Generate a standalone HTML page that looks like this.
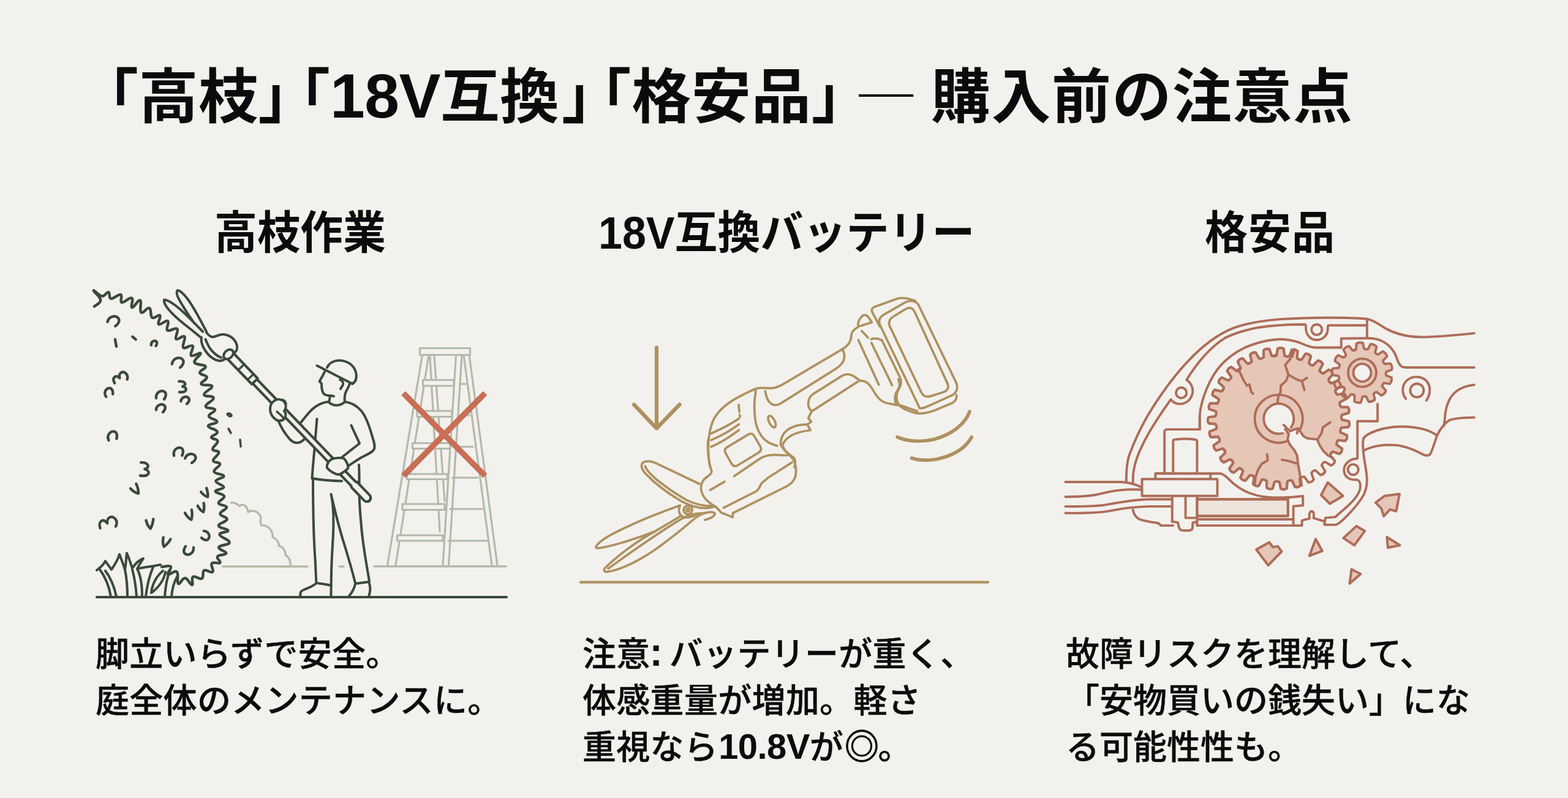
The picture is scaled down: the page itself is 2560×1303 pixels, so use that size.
<!DOCTYPE html>
<html lang="ja">
<head>
<meta charset="utf-8">
<title>購入前の注意点</title>
<style>
html,body{margin:0;padding:0;}
body{width:2560px;height:1303px;overflow:hidden;background:#f3f1ed;position:relative;
 font-family:"Liberation Sans","Noto Sans CJK JP",sans-serif;color:#0b0b0b;}
.t{position:absolute;white-space:nowrap;line-height:1;margin:0;padding:0;font-weight:700;}
h1.t{font-size:97px;top:110px;left:0;width:2560px;height:110px;}
h1.t span{position:absolute;top:0;white-space:nowrap;}
#g1{left:129px;letter-spacing:0.5px;}
#g2{left:442px;}
#g3{left:933.5px;letter-spacing:0.8px;}
#gd{left:1402px;top:10px !important;font-weight:400;font-size:62px;transform:scaleX(1.44);transform-origin:0 50%;}
#g4{left:1520px;letter-spacing:1.5px;}
#g2 i{font-style:normal;letter-spacing:-0.5px;font-size:102px;line-height:0;}
#g2 b{font-weight:inherit;margin-left:4px;}
h2.t{font-size:70px;top:346px;transform:scaleY(1.05);transform-origin:0 50%;}
#hd1{left:350px;}
#hd2{left:977px;}
#hd3{left:1967px;letter-spacing:1px;}
.b{position:absolute;margin:0;padding:0;font-size:55px;font-weight:500;line-height:76px;white-space:nowrap;top:1030px;letter-spacing:0.3px;-webkit-text-stroke:0.45px #0b0b0b;}
#b3{letter-spacing:0;}
.b i{font-style:normal;line-height:0;}
#c1{font-weight:700;font-size:64px;margin-right:-5px;margin-left:-1px;-webkit-text-stroke:0;}
#n1{font-weight:700;font-size:58px;letter-spacing:-0.6px;margin-left:1px;-webkit-text-stroke:0;}
#dc{font-size:56px;-webkit-text-stroke:1.3px #0b0b0b;margin:0 -2px 0 2px;position:relative;top:-0.5px;}
#b1{left:156px;}
#b2{left:951px;}
#b3{left:1740px;}
svg{position:absolute;left:0;top:0;}
</style>
</head>
<body>
<svg width="2560" height="1303" viewBox="0 0 2560 1303" aria-hidden="true">
<g id="ill1">
<path d="M363.5 925H502 M554 925H561 M611 924.7H826" fill="none" stroke="#b4b9ab" stroke-width="3.4" stroke-linecap="round" stroke-linejoin="round"/>
<path d="M377.5 821 C384 819 387 824 391 826 C397 822 404 826 405 836 C413 831 425 836 426 847 C424 853 427 858 427 858 C436 857 446 865 445 877 C452 880 456 886 455 891 C462 893 467 900 466 906 C472 910 475 916 474 924" fill="none" stroke="#b4b9ab" stroke-width="3.4" stroke-linecap="round" stroke-linejoin="round"/>
<path d="M685.5 568.5H767.5V579.5H685.5Z M689.5 579.5L632.5 923 M700 579.5L646 923 M744.5 579.5L723 923 M754 579.5L732.5 923 M757 579.5L803 923 M766 579.5L812 923 M702 582L718 868 M709 582L726 818 M753.5 627H760 M748 678H766 M743 729.5H772 M738.5 780H779.5 M735 831H787 M732 883H795" fill="none" stroke="#b4b9ab" stroke-width="3.2" stroke-linecap="round" stroke-linejoin="round"/>
<path d="M690.5 620.5H741V630H690.5Z M681 671H738V680.5H681Z M673.5 723.5H735V732.5H673.5Z M664.5 774H730.5V782.5H664.5Z M657 823H726V832.5H657Z M648.5 874H723V883H648.5Z" fill="#f3f1ed" stroke="#b4b9ab" stroke-width="3.2" stroke-linecap="round" stroke-linejoin="round"/>
<path d="M658.5 642L792 777 M792 642L658.5 777" fill="none" stroke="#c86f56" stroke-width="9.5" stroke-linecap="butt"/>
<path d="M154.0 500.3 C156.3 498.0 164.5 495.5 164.2 489.8 C164.0 484.1 152.2 475.9 152.7 474.5 C153.3 473.1 161.4 483.1 166.7 483.6 C172.0 484.2 173.7 476.1 176.9 477.0 C180.2 477.9 177.0 486.7 181.4 487.6 C185.8 488.5 193.1 479.8 197.0 481.1 C200.8 482.5 194.9 492.6 198.8 493.8 C202.8 495.0 211.3 484.9 215.0 486.7 C218.7 488.5 212.6 501.3 215.6 502.1 C218.6 502.9 225.5 488.6 228.8 490.4 C232.0 492.1 227.1 507.3 230.4 510.1 C233.8 512.9 239.9 501.2 243.8 503.1 C247.8 504.9 244.6 516.0 248.5 518.7 C252.3 521.4 258.8 512.7 261.2 515.1 C263.5 517.5 256.3 527.4 259.2 529.5 C262.0 531.5 270.9 522.1 274.0 524.3 C277.1 526.5 270.0 536.7 273.4 539.4 C276.7 542.2 286.1 533.9 289.2 537.0 C292.3 540.0 284.8 550.6 287.4 553.4 C290.1 556.2 298.7 546.7 301.3 549.8 C303.9 552.8 296.4 564.1 299.3 567.4 C302.2 570.7 311.7 561.9 314.5 564.8 C317.3 567.6 309.2 577.8 312.1 580.5 C315.0 583.2 326.3 574.5 327.5 577.0 C328.7 579.5 315.8 587.2 317.6 591.9 C319.3 596.5 333.5 594.4 335.4 598.1 C337.3 601.8 325.8 604.7 326.3 608.6 C326.9 612.6 337.2 611.9 337.7 616.0 C338.2 620.0 326.7 624.0 328.6 627.2 C330.5 630.4 345.2 626.8 346.2 630.6 C347.2 634.4 332.6 640.1 333.1 644.3 C333.7 648.6 348.2 645.6 348.7 649.8 C349.3 654.0 335.3 659.3 335.8 663.5 C336.3 667.7 349.8 665.5 351.0 669.0 C352.1 672.6 340.3 675.3 341.0 679.6 C341.8 683.9 354.6 685.0 354.4 688.5 C354.1 692.1 339.8 692.1 339.9 695.7 C340.0 699.3 353.7 701.0 354.8 705.0 C356.0 709.1 345.0 710.8 345.1 714.1 C345.3 717.5 354.9 716.0 355.4 720.3 C355.9 724.6 346.8 729.5 347.2 733.5 C347.6 737.6 357.1 734.7 357.3 738.8 C357.5 742.9 347.6 747.9 348.0 752.1 C348.4 756.3 358.9 753.8 359.2 757.7 C359.6 761.7 348.1 765.8 349.5 770.1 C350.9 774.4 364.8 773.8 365.4 777.2 C366.1 780.6 352.5 781.5 352.4 785.6 C352.3 789.6 365.3 791.7 365.2 795.4 C365.0 799.1 351.6 799.2 351.8 802.4 C351.9 805.7 364.9 806.0 366.0 810.2 C367.1 814.5 355.9 817.6 356.8 821.6 C357.7 825.5 369.5 824.3 370.0 828.2 C370.6 832.0 359.2 834.6 359.4 839.0 C359.5 843.3 371.1 843.6 370.6 847.9 C370.0 852.2 356.6 854.4 357.0 858.4 C357.3 862.5 372.0 863.1 372.4 866.3 C372.8 869.5 358.2 868.6 358.7 872.9 C359.2 877.2 375.0 881.2 374.6 885.8 C374.3 890.3 358.4 889.6 357.2 893.5 C356.1 897.4 369.9 900.1 369.4 903.5 C368.9 906.8 357.3 905.2 355.1 908.6 C352.8 912.0 361.3 916.4 359.3 918.9 C357.2 921.3 348.6 916.5 345.9 919.8 C343.2 923.1 349.9 931.3 347.1 933.9 C344.3 936.5 337.1 929.1 333.3 931.4 C329.4 933.8 333.6 942.3 329.6 944.6 C325.6 946.9 318.7 939.5 315.1 941.8 C311.6 944.1 316.4 954.6 313.5 955.0 C310.7 955.5 307.1 944.5 302.2 944.0 C297.2 943.6 294.0 955.2 291.0 952.9 C288.1 950.7 292.4 937.0 288.7 933.8 C285.0 930.5 276.3 939.9 274.1 938.0 C272.0 936.1 281.0 927.8 278.8 925.1 C276.6 922.4 267.4 925.5 264.2 925.6" fill="none" stroke="#3a4a3a" stroke-width="4.5" stroke-linecap="round" stroke-linejoin="round"/>
<path d="M-7 6C-8 -4 3 -9 8 -3C10 1 8 5 6 8" transform="translate(185.0 522.0) rotate(20) scale(1.10)" fill="none" stroke="#3a4a3a" stroke-width="4.00" stroke-linecap="round" stroke-linejoin="round"/>
<path d="M-3 -5L3 5" transform="translate(189.0 560.0) rotate(20) scale(1.00)" fill="none" stroke="#3a4a3a" stroke-width="4.40" stroke-linecap="round" stroke-linejoin="round"/>
<path d="M-3 -5L3 5" transform="translate(219.0 552.0) rotate(-20) scale(0.60)" fill="none" stroke="#3a4a3a" stroke-width="7.33" stroke-linecap="round" stroke-linejoin="round"/>
<path d="M-7 6C-8 -4 3 -9 8 -3C10 1 8 5 6 8" transform="translate(251.0 560.0) rotate(0) scale(0.60)" fill="none" stroke="#3a4a3a" stroke-width="7.33" stroke-linecap="round" stroke-linejoin="round"/>
<path d="M-7 6C-8 -4 3 -9 8 -3C10 1 8 5 6 8" transform="translate(290.0 590.0) rotate(15) scale(1.10)" fill="none" stroke="#3a4a3a" stroke-width="4.00" stroke-linecap="round" stroke-linejoin="round"/>
<path d="M-12 5C-13 -5 -4 -8 -1 1C0 -8 10 -9 12 1C12 5 10 7 9 8" transform="translate(196.0 616.0) rotate(-25) scale(1.00)" fill="none" stroke="#3a4a3a" stroke-width="4.40" stroke-linecap="round" stroke-linejoin="round"/>
<path d="M-7 6C-8 -4 3 -9 8 -3C10 1 8 5 6 8" transform="translate(176.0 640.0) rotate(-30) scale(0.90)" fill="none" stroke="#3a4a3a" stroke-width="4.89" stroke-linecap="round" stroke-linejoin="round"/>
<path d="M-7 6C-8 -4 3 -9 8 -3C10 1 8 5 6 8" transform="translate(262.0 644.0) rotate(0) scale(1.00)" fill="none" stroke="#3a4a3a" stroke-width="4.40" stroke-linecap="round" stroke-linejoin="round"/>
<path d="M-8 -9C2 -12 8 -6 0 -1C10 -1 10 9 -4 10" transform="translate(298.0 632.0) rotate(10) scale(0.90)" fill="none" stroke="#3a4a3a" stroke-width="4.89" stroke-linecap="round" stroke-linejoin="round"/>
<path d="M-7 6C-8 -4 3 -9 8 -3C10 1 8 5 6 8" transform="translate(262.0 665.0) rotate(10) scale(0.90)" fill="none" stroke="#3a4a3a" stroke-width="4.89" stroke-linecap="round" stroke-linejoin="round"/>
<path d="M-7 6C-8 -4 3 -9 8 -3C10 1 8 5 6 8" transform="translate(302.0 652.0) rotate(15) scale(0.80)" fill="none" stroke="#3a4a3a" stroke-width="5.50" stroke-linecap="round" stroke-linejoin="round"/>
<path d="M-7 6C-8 -4 3 -9 8 -3C10 1 8 5 6 8" transform="translate(182.0 711.0) rotate(-20) scale(1.00)" fill="none" stroke="#3a4a3a" stroke-width="4.40" stroke-linecap="round" stroke-linejoin="round"/>
<path d="M-7 6C-8 -4 3 -9 8 -3C10 1 8 5 6 8" transform="translate(290.0 737.0) rotate(-10) scale(1.00)" fill="none" stroke="#3a4a3a" stroke-width="4.40" stroke-linecap="round" stroke-linejoin="round"/>
<path d="M-7 6C-8 -4 3 -9 8 -3C10 1 8 5 6 8" transform="translate(311.0 746.0) rotate(25) scale(1.00)" fill="none" stroke="#3a4a3a" stroke-width="4.40" stroke-linecap="round" stroke-linejoin="round"/>
<path d="M-8 -9C2 -12 8 -6 0 -1C10 -1 10 9 -4 10" transform="translate(236.0 767.0) rotate(15) scale(1.10)" fill="none" stroke="#3a4a3a" stroke-width="4.00" stroke-linecap="round" stroke-linejoin="round"/>
<path d="M-6 -7C-5 0 -2 5 0 7C3 3 5 -2 6 -8" transform="translate(222.0 800.0) rotate(-35) scale(1.00)" fill="none" stroke="#3a4a3a" stroke-width="4.40" stroke-linecap="round" stroke-linejoin="round"/>
<path d="M-12 5C-13 -5 -4 -8 -1 1C0 -8 10 -9 12 1C12 5 10 7 9 8" transform="translate(176.0 853.0) rotate(-15) scale(1.20)" fill="none" stroke="#3a4a3a" stroke-width="3.67" stroke-linecap="round" stroke-linejoin="round"/>
<path d="M-6 -7C-5 0 -2 5 0 7C3 3 5 -2 6 -8" transform="translate(245.0 856.0) rotate(-5) scale(1.00)" fill="none" stroke="#3a4a3a" stroke-width="4.40" stroke-linecap="round" stroke-linejoin="round"/>
<path d="M-6 -7C-5 0 -2 5 0 7C3 3 5 -2 6 -8" transform="translate(270.0 886.0) rotate(20) scale(1.00)" fill="none" stroke="#3a4a3a" stroke-width="4.40" stroke-linecap="round" stroke-linejoin="round"/>
<path d="M-6 -7C-5 0 -2 5 0 7C3 3 5 -2 6 -8" transform="translate(310.0 842.0) rotate(-20) scale(1.00)" fill="none" stroke="#3a4a3a" stroke-width="4.40" stroke-linecap="round" stroke-linejoin="round"/>
<path d="M-6 -7C-5 0 -2 5 0 7C3 3 5 -2 6 -8" transform="translate(336.0 806.0) rotate(-30) scale(0.90)" fill="none" stroke="#3a4a3a" stroke-width="4.89" stroke-linecap="round" stroke-linejoin="round"/>
<path d="M-7 6C-8 -4 3 -9 8 -3C10 1 8 5 6 8" transform="translate(337.0 874.0) rotate(100) scale(0.90)" fill="none" stroke="#3a4a3a" stroke-width="4.89" stroke-linecap="round" stroke-linejoin="round"/>
<path d="M-7 6C-8 -4 3 -9 8 -3C10 1 8 5 6 8" transform="translate(309.0 900.0) rotate(180) scale(1.00)" fill="none" stroke="#3a4a3a" stroke-width="4.40" stroke-linecap="round" stroke-linejoin="round"/>
<path d="M-6 -7C-5 0 -2 5 0 7C3 3 5 -2 6 -8" transform="translate(330.0 830.0) rotate(-20) scale(0.90)" fill="none" stroke="#3a4a3a" stroke-width="4.89" stroke-linecap="round" stroke-linejoin="round"/>
<path d="M371 676c3 -2 7 0 7 3c-2 2 -6 0 -7 -3Z M373 700l4 7 M392 718l1 11" fill="none" stroke="#3a4a3a" stroke-width="3.6" stroke-linecap="round" stroke-linejoin="round"/>
<path d="M158 931C166 925 170 921 172 916C176 922 180 927 182 930C186 924 192 916 195 905C199 915 202 924 204 930C206 920 206 908 207 903C211 912 214 922 216 928C221 920 228 914 234 912C230 918 226 924 224 929C234 926 250 925 262 922 M163 930C172 942 178 958 181 974 M172 932C181 944 187 960 190 974 M204 930C207 945 208 960 208 974 M216 930C220 945 222 960 223 974 M224 929C230 940 232 956 232 974 M250 926C244 940 240 956 238 974 M266 932C254 942 248 956 247 968C259 960 268 946 270 934 M278 930C272 944 270 960 269 974 M290 940C284 950 281 962 280 974" fill="none" stroke="#3a4a3a" stroke-width="4" stroke-linecap="round" stroke-linejoin="round"/>
<path d="M158 975H827" fill="none" stroke="#3a4a3a" stroke-width="4.2" stroke-linecap="round" stroke-linejoin="round"/>
<path d="M534 600C540 588 555 586 566 591C578 596 584 608 581 620C580 623 578 625 575 627 M517.5 597L574 626" fill="none" stroke="#3a4a3a" stroke-width="4" stroke-linecap="round" stroke-linejoin="round"/>
<path d="M530 607C528 612 524 618 521.5 623C523 624 525 625 525 627C525 631 525 636 527 640C528 644 533 646 538 646C541 646 543 646 545 647 M539 647C538 651 538 654 537 657C545 664 556 663 563 656C562 650 563 644 565 639C568 634 570 630 571 626 M555 620C559 621 561 625 560 628C559 631 557 632 556 635" fill="none" stroke="#3a4a3a" stroke-width="4" stroke-linecap="round" stroke-linejoin="round"/>
<path d="M536 656C528 657 518 661 510 668C502 676 496 684 491 690" fill="none" stroke="#3a4a3a" stroke-width="4" stroke-linecap="round" stroke-linejoin="round"/>
<path d="M454 686C458 696 465 708 473 717C478 723 486 725 492 721C495 719 497 717 498 716" fill="none" stroke="#3a4a3a" stroke-width="4" stroke-linecap="round" stroke-linejoin="round"/>
<path d="M517.5 684C516 700 514 730 511 760L509.5 781" fill="none" stroke="#3a4a3a" stroke-width="4" stroke-linecap="round" stroke-linejoin="round"/>
<path d="M509.5 781C525 784 542 785 558 785.5" fill="none" stroke="#3a4a3a" stroke-width="4" stroke-linecap="round" stroke-linejoin="round"/>
<path d="M563 656C572 657 582 662 590 671C598 681 603 696 607 710C610 720 613 727 611 733C609 738 600 742 590 747C583 751 576 756 570 760" fill="none" stroke="#3a4a3a" stroke-width="4" stroke-linecap="round" stroke-linejoin="round"/>
<path d="M573.5 694.5C578 705 583 715 587 724C578 731 568 739 559 746" fill="none" stroke="#3a4a3a" stroke-width="4" stroke-linecap="round" stroke-linejoin="round"/>
<path d="M586 759C586.5 767 586.5 774 586.5 781" fill="none" stroke="#3a4a3a" stroke-width="4" stroke-linecap="round" stroke-linejoin="round"/>
<path d="M511 783C511 820 512 880 515 920C515.5 935 516 945 516.5 952 M540.5 807C546 830 545 860 543 890C541 920 540.5 950 540.5 974 M540.5 807C548 840 556 870 564 895C570 915 576 935 580 952 M586.5 781C586 800 587 830 590 860C593 895 599 925 603 949" fill="none" stroke="#3a4a3a" stroke-width="4" stroke-linecap="round" stroke-linejoin="round"/>
<path d="M516.5 952C512 957 503 960 496 963C491 965 489 969 491 974 M516.5 952C525 953 533 954 540.5 956 M580 953C579 960 575 967 570 973 M580 953C588 952 595 951 602 950C605 957 605 966 602 974" fill="none" stroke="#3a4a3a" stroke-width="4" stroke-linecap="round" stroke-linejoin="round"/>
<path d="M412.4 626.0 L596.8 817.6 A4.9 4.9 0 0 0 603.8 810.8 L419.5 619.2" fill="#f3f1ed" stroke="#3a4a3a" stroke-width="4.2" stroke-linecap="round" stroke-linejoin="round"/>
<path d="M368.1 582.7 L411.1 627.3 L420.8 618.0 L377.9 573.3Z" fill="#f3f1ed" stroke="#3a4a3a" stroke-width="4.2" stroke-linecap="round" stroke-linejoin="round"/>
<path d="M389.1 604.1 L398.5 595.1" fill="none" stroke="#3a4a3a" stroke-width="3.5" stroke-linecap="round" stroke-linejoin="round"/>
<path d="M404.4 619.9 L413.7 610.9" fill="none" stroke="#3a4a3a" stroke-width="3.5" stroke-linecap="round" stroke-linejoin="round"/>
<path d="M573.6 795.5 L594.4 817.1 A6.2 6.2 0 0 0 603.4 808.4 L582.6 786.8" fill="#f3f1ed" stroke="#3a4a3a" stroke-width="4.2" stroke-linecap="round" stroke-linejoin="round"/>
<path d="M337 543C341 548 345 551 349 550C354 549 358 546 364 546C372 546 381 551 385 559C388 565 388 571 384 575C381 578 377 576 374 573 M329 551C328 556 329 561 332 567C336 575 342 582 349 586C355 590 361 590 366 587 M335.5 554C338 560 340 565 343 569C348 576 354 581 361 584" fill="none" stroke="#3a4a3a" stroke-width="4" stroke-linecap="round" stroke-linejoin="round"/>
<ellipse cx="373" cy="578.5" rx="9" ry="6.5" transform="rotate(-44 373 578.5)" fill="#f3f1ed" stroke="#3a4a3a" stroke-width="4"/>
<path d="M290 474C295 475 302 482 309 492C318 505 328 524 337 541.5 M290 474C287 477 289 483 293 490C300 503 309 516 317 527.5 M268 489.5C272 489 279 493 288 500C300 509 314 524 331 541.5 M268 489.5C267 494 270 499 275 505C285 517 300 529 312 538C318 543 323 547 328 551" fill="none" stroke="#3a4a3a" stroke-width="4" stroke-linecap="round" stroke-linejoin="round"/>
<path d="M447 655C452 651 460 651 464 656C468 661 467 667 464 671C467 675 467 680 464 684C460 688 453 688 449 684C444 680 441 674 441 668C441 663 443 658 447 655Z" fill="#f3f1ed" stroke="#3a4a3a" stroke-width="4" stroke-linecap="round" stroke-linejoin="round"/>
<path d="M459 653C463 652 466 655 467 659 M452 672C456 676 460 678 463 683" fill="none" stroke="#3a4a3a" stroke-width="3.5" stroke-linecap="round" stroke-linejoin="round"/>
<path d="M541 750C548 747 557 747 562 749C566 754 569 760 568 765C564 769 558 773 553 775C546 774 538 769 534 764C533 759 536 753 541 750Z" fill="#f3f1ed" stroke="#3a4a3a" stroke-width="4" stroke-linecap="round" stroke-linejoin="round"/>
</g>
<g id="ill2">
<path d="M948 950.6H1613" fill="none" stroke="#ad9160" stroke-width="4.4" stroke-linecap="round" stroke-linejoin="round"/>
<path d="M1072 567.5V699 M1035 660.5L1072 699.5L1109.5 660.5" fill="none" stroke="#ad9160" stroke-width="6.2" stroke-linecap="round" stroke-linejoin="round"/>
<path d="M1583 672.2 C1575.9 692.5 1554.1 709.7 1524.4 717.5 C1502.5 722.5 1480.6 720.6 1465 713.6" fill="none" stroke="#ad9160" stroke-width="5.6" stroke-linecap="round" stroke-linejoin="round"/>
<path d="M1586.4 713.6 C1577.5 730 1558.8 742.5 1533.8 748.8 C1516.6 752.7 1500.9 751.9 1488.4 748.0" fill="none" stroke="#ad9160" stroke-width="5.6" stroke-linecap="round" stroke-linejoin="round"/>
<path d="M1451.9 531.1 C1450.6 524.1 1453 520.2 1458.4 517 L1478.8 504.5 C1485 500.9 1490 502.5 1493.1 508.8 L1546.7 625.6 C1549.4 631.9 1547.8 636.9 1541.2 640 L1519.4 646.9 C1511.9 649.1 1506.9 646.7 1503.8 640 Z" fill="none" stroke="#ad9160" stroke-width="3.75" stroke-linecap="round" stroke-linejoin="round"/>
<path d="M1501.4 666.2 L1436.2 529.5 C1433.8 522.5 1436.2 517.8 1442.8 513.9 L1477.2 494.1 C1485 490 1494.4 490.5 1499.4 497.5 L1560.8 624.1 C1564.4 631.9 1562.8 639.7 1555.6 644.7 L1516.2 662.8 C1510 665.5 1505.3 667.8 1501.4 666.2" fill="none" stroke="#ad9160" stroke-width="3.75" stroke-linecap="round" stroke-linejoin="round"/>
<path d="M1494.4 491.2 C1485 488.1 1475.6 485 1466.2 487.3 L1428 500.9 C1423.3 503 1422.2 506.1 1424.4 510.3 L1436.6 533.4 M1439.7 555.3 L1469.4 616.2 C1473.3 625.6 1469.4 631.9 1465.9 638.1 C1462.3 645.9 1463.1 653.8 1467.8 661.6 C1474.1 667.8 1481.9 670.9 1494.4 674.4 C1503.8 676.4 1513.1 674.8 1525.6 670.2 L1555.3 657.7 C1560 654.5 1562.3 649.8 1561.6 645.2 M1469.4 661.6 L1497.5 671.2" fill="none" stroke="#ad9160" stroke-width="3.75" stroke-linecap="round" stroke-linejoin="round"/>
<path d="M1422.5 553.8 C1428 551.9 1433.4 552.2 1439.7 555.6 M1401.4 555.3 L1434.7 628 M1422.8 560 L1456.6 629.1 M1406.9 540.5 C1410.8 544.4 1414.7 548.3 1417 551.4" fill="none" stroke="#ad9160" stroke-width="3.75" stroke-linecap="round" stroke-linejoin="round"/>
<path d="M1401.4 533.4 C1399.8 527.2 1403 520.2 1408.8 515 C1413.9 512.8 1417.8 516.2 1423.3 526.4 L1404.5 532.2" fill="none" stroke="#ad9160" stroke-width="3.75" stroke-linecap="round" stroke-linejoin="round"/>
<path d="M1401.4 533.4 C1395.9 537.3 1390.5 540.5 1390 546.7 C1390 553.8 1387.3 560 1382.7 564.4 C1380.3 567 1377.2 568.6 1374.8 570.2" fill="none" stroke="#ad9160" stroke-width="3.75" stroke-linecap="round" stroke-linejoin="round"/>
<path d="M1375.2 570.2 L1281.4 625.6 C1274.4 630 1267.3 633.1 1260.3 633.8 C1252.5 634.4 1244.7 632.7 1237.7 633.8 C1230.6 635 1221.2 640.5 1208.8 646.7 C1191.6 655.3 1175.9 666.2 1165.8 683.4 C1158.8 697.5 1156.4 714.7 1156.4 731.9 C1156.4 744.4 1157.5 753.8 1159.5 763.1" fill="none" stroke="#ad9160" stroke-width="3.75" stroke-linecap="round" stroke-linejoin="round"/>
<path d="M1375.2 570.2 C1379.8 577.2 1379.8 586.6 1374.4 593.6 C1371.2 597.5 1368.1 599.8 1365 601.9 L1274.4 658.8 C1268.1 662.3 1261.9 662.3 1257.2 657.7 C1252.5 653 1250.6 646.7 1249.4 638.9" fill="none" stroke="#ad9160" stroke-width="3.75" stroke-linecap="round" stroke-linejoin="round"/>
<path d="M1325.2 671.7 C1321.2 667.8 1318.9 663.1 1319.7 656.9 C1320.5 650.6 1323.6 645.9 1328.3 642.8 L1374.4 613.9 C1380.6 610.3 1386.9 610.3 1393.1 613.9 C1397.8 616.6 1400.9 619.4 1404.1 621.7 M1325.2 671.7 L1400.2 623.3" fill="none" stroke="#ad9160" stroke-width="3.75" stroke-linecap="round" stroke-linejoin="round"/>
<path d="M1404.1 621.7 C1411.9 620.9 1418.1 625.6 1422.8 632.7 C1429.1 642.8 1433.8 653.8 1446.2 657.7 C1452.5 659.2 1458.8 660 1464.2 661.6 M1464.2 661.6 C1459.5 653.8 1460.3 644.4 1465.8 636.6 C1469.7 631.1 1469.7 625.6 1466.6 619.4" fill="none" stroke="#ad9160" stroke-width="3.75" stroke-linecap="round" stroke-linejoin="round"/>
<path d="M1325.2 671.7 C1322.8 676.4 1321.2 679.5 1319.7 682.7 L1324.4 688.4 C1322 690.5 1319.7 692 1318.1 693.1 L1323.1 702.5 C1311.9 703.8 1300.9 706.1 1292.3 710.8 C1285.3 714.7 1279.8 719.4 1277.5 727.2 M1318.1 693.1 C1305.6 692.8 1293.9 695.9 1285.3 702.2 C1278.3 707.7 1274.4 716.2 1274.4 725.6 C1277.5 733.4 1285.3 739.7 1296.2 747.5 C1299.4 752.2 1298.6 756.9 1297 763.1" fill="none" stroke="#ad9160" stroke-width="3.75" stroke-linecap="round" stroke-linejoin="round"/>
<path d="M1233.8 638.1 C1231.4 653.8 1230.6 672.5 1233.8 689.7 C1236.9 703.8 1243.1 714.7 1252.5 720.9 C1257.2 724.1 1263.4 726.4 1268.9 728.0" fill="none" stroke="#ad9160" stroke-width="3.75" stroke-linecap="round" stroke-linejoin="round"/>
<path d="M1161.1 707.7 C1177.5 700.6 1193.1 692.8 1206.4 683.4 M1161.1 718.6 C1177.5 711.6 1193.1 703 1206.4 692.8 M1161.1 729.5 C1177.5 722.5 1193.1 712.3 1206.4 702.2 M1205.9 660.8 L1207.2 672.5 M1207.5 677.5 L1208.1 680.6" fill="none" stroke="#ad9160" stroke-width="3.75" stroke-linecap="round" stroke-linejoin="round"/>
<ellipse cx="1260.3" cy="688.4" rx="4.6" ry="10.3" transform="rotate(-27 1260.3 688.4)" fill="none" stroke="#ad9160" stroke-width="3.75"/>
<path d="M1186.9 730.3 L1222 709.2 C1225.9 707.2 1229.1 708.1 1231.4 711.9 L1241.6 729.5 C1243.4 733.4 1242.3 736.6 1238.8 738.9 L1204.1 760 C1200.2 762 1196.6 761.2 1194.4 757.2 L1184.5 739.7 C1182.5 735.8 1183.4 732.7 1186.9 730.3 Z" fill="none" stroke="#ad9160" stroke-width="3.75" stroke-linecap="round" stroke-linejoin="round"/>
<path d="M1156.1 718.1 C1154.8 736.9 1157.2 755.6 1161.9 769.7 C1161.9 774.4 1155.6 777.5 1150.9 781.4 C1146.2 786.1 1143.9 792.3 1144.7 799.4 C1145.9 808.8 1150.9 815 1158.8 821.2 C1165 825.9 1169.7 827.5 1172.8 832.2" fill="none" stroke="#ad9160" stroke-width="3.75" stroke-linecap="round" stroke-linejoin="round"/>
<path d="M1159.5 800.2 L1183 786.4 M1198.6 777.5 L1240 749.4 C1247.8 744.4 1258.8 742.3 1268.1 742.8 C1274.4 743.1 1280.6 743.9 1286.1 743.1" fill="none" stroke="#ad9160" stroke-width="3.75" stroke-linecap="round" stroke-linejoin="round"/>
<path d="M1297.8 780.6 C1300.9 771.2 1300.2 758.8 1294.7 749.4 C1290 742.3 1282.2 740 1277.5 727.5" fill="none" stroke="#ad9160" stroke-width="3.75" stroke-linecap="round" stroke-linejoin="round"/>
<path d="M1172.8 831.6 L1177.5 837 L1196.2 844.4 L1196.6 837.8 L1283.8 794.4 C1291.6 790.2 1296.2 784.7 1297.8 780 M1181.4 829.2 L1233.8 802.7 C1240 798.8 1240.8 792.5 1243.9 788.6 C1247 785.5 1250.9 783.1 1254.1 780 L1293 755.0" fill="none" stroke="#ad9160" stroke-width="3.75" stroke-linecap="round" stroke-linejoin="round"/>
<path d="M1141.6 790 L1071.2 756.4 C1063.4 752.8 1054.1 751.7 1049.4 755.6 C1045.5 759.5 1047.8 766.6 1054.1 773.6 C1068.1 788.4 1088.4 804.1 1111.9 818.1 C1127.5 826.7 1147.8 833.8 1168.1 826.7 M1053.3 761.1 C1055.6 768.1 1063.4 775.9 1072.8 783.8 C1088.4 796.2 1105.6 808 1121.2 816.6 C1135.3 823.6 1150.9 826.7 1165 825.9" fill="none" stroke="#ad9160" stroke-width="3.75" stroke-linecap="round" stroke-linejoin="round"/>
<path d="M1110.3 825.3 C1072.8 838.6 1033.8 854.2 999.4 872.2 C985.3 880 975.9 886.2 973.1 892.8 C972.8 895.6 975.9 895.6 980.6 894.5 C1002.5 890.9 1036.9 880 1069.7 867.5 M986.9 928.4 C1005.6 909.7 1040 883.1 1069.7 867.5 C1085.3 858.1 1099.4 850.3 1111.1 842.5 M993.1 928.4 C1027.5 903.4 1074.4 870.6 1112.7 847.2 C1125.9 840.2 1136.9 837.8 1147.8 838.1 M990 933.9 C986.9 933.9 985.3 931.6 986.9 928.4 M990 933.9 C1015 930.8 1049.4 912.8 1080.6 889.4 C1104.1 872.2 1124.4 855 1135.3 845.6 C1141.6 840.9 1146.2 839.1 1149.4 838.1" fill="none" stroke="#ad9160" stroke-width="3.75" stroke-linecap="round" stroke-linejoin="round"/>
<circle cx="1123.1" cy="832.7" r="7" fill="none" stroke="#ad9160" stroke-width="3.75"/>
<circle cx="1123.1" cy="832.7" r="2.6" fill="none" stroke="#ad9160" stroke-width="3.75"/>
<path d="M1109.5 826.9 C1107.2 833.1 1108.8 839.4 1113.4 843.3 C1119.7 846.4 1129.1 844.8 1136.9 840.2 M1149.4 838.1 C1157.2 835.5 1165 835.5 1167.3 838.6 C1166.6 843.3 1158.8 847.2 1150.9 848.8" fill="none" stroke="#ad9160" stroke-width="3.75" stroke-linecap="round" stroke-linejoin="round"/>
</g>
<g id="ill3">
<path d="M1954.4 815.2 L2102.8 815.2 L2102.8 842.5 L1954.4 842.5 Z" fill="#eee4dc" stroke="#ad6d59" stroke-width="3.9" stroke-linecap="round" stroke-linejoin="round"/>
<path d="M2080.1 580.5 L2084.1 580.3 L2086.0 569.2 Q2091.0 566.5 2095.8 569.5 L2097.1 580.6 Q2100.8 583.2 2105.0 581.7 L2105.0 581.7 L2109.1 571.2 Q2114.5 569.6 2118.6 573.4 L2117.6 584.6 Q2120.7 587.9 2125.2 587.2 L2125.2 587.2 L2131.3 577.8 Q2136.9 577.3 2140.2 581.9 L2137.0 592.7 Q2139.3 596.5 2143.8 596.7 L2143.8 596.7 L2151.7 588.8 Q2157.3 589.4 2159.6 594.6 L2154.3 604.5 Q2155.8 608.7 2160.2 609.8 L2160.2 609.8 L2169.5 603.6 Q2174.9 605.3 2176.0 610.9 L2168.9 619.5 Q2169.5 624.0 2173.6 625.9 L2173.6 625.9 L2184.0 621.7 Q2188.9 624.5 2188.9 630.1 L2180.1 637.1 Q2179.9 641.6 2183.4 644.4 L2183.4 644.4 L2194.5 642.4 Q2198.7 646.1 2197.6 651.6 L2187.6 656.7 Q2186.4 661.1 2189.4 664.5 L2189.4 664.5 L2200.6 664.7 Q2204.0 669.2 2201.8 674.4 L2191.0 677.4 Q2189.0 681.4 2191.2 685.3 L2191.2 685.3 L2202.1 687.8 Q2204.6 692.9 2201.4 697.5 L2190.2 698.3 Q2187.4 701.8 2188.7 706.1 L2188.7 706.1 L2199.0 710.8 Q2200.3 716.2 2196.2 720.1 L2185.1 718.6 Q2181.7 721.5 2182.2 726.0 L2182.2 726.0 L2191.2 732.6 Q2191.5 738.3 2186.7 741.2 L2176.1 737.5 Q2172.1 739.7 2171.7 744.2 L2171.7 744.2 L2179.3 752.5 Q2178.4 758.0 2173.1 760.0 L2163.5 754.2 Q2159.1 755.5 2157.8 759.8 L2157.8 759.8 L2163.5 769.5 Q2161.6 774.8 2156.0 775.6 L2147.7 768.0 Q2143.2 768.4 2141.1 772.4 L2141.1 772.4 L2144.7 783.0 Q2141.7 787.8 2136.1 787.5 L2129.5 778.4 Q2125.0 777.9 2122.1 781.3 L2122.1 781.3 L2123.6 792.4 Q2119.7 796.5 2114.2 795.1 L2109.6 784.9 Q2105.3 783.5 2101.8 786.2 L2101.8 786.2 L2100.9 797.4 Q2096.3 800.6 2091.2 798.1 L2088.8 787.2 Q2084.9 785.0 2080.8 787.0 L2080.8 787.0 L2077.8 797.8 Q2072.6 800.0 2068.1 796.5 L2067.9 785.3 Q2064.5 782.3 2060.2 783.5 L2060.2 783.5 L2055.0 793.4 Q2049.5 794.5 2045.8 790.3 L2047.9 779.2 Q2045.2 775.6 2040.7 775.9 L2040.7 775.9 L2033.6 784.6 Q2028.0 784.6 2025.2 779.7 L2029.5 769.3 Q2027.5 765.2 2023.1 764.5 L2023.1 764.5 L2014.4 771.7 Q2008.9 770.5 2007.2 765.1 L2013.4 755.8 Q2012.4 751.4 2008.1 749.9 L2008.1 749.9 L1998.2 755.1 Q1993.0 752.9 1992.4 747.2 L2000.4 739.4 Q2000.3 734.9 1996.4 732.5 L1996.4 732.5 L1985.7 735.6 Q1981.0 732.4 1981.6 726.8 L1991.0 720.7 Q1991.8 716.2 1988.5 713.1 L1988.5 713.1 L1977.3 714.0 Q1973.4 709.9 1975.1 704.5 L1985.6 700.5 Q1987.2 696.2 1984.6 692.5 L1984.6 692.5 L1973.4 691.2 Q1970.5 686.4 1973.2 681.4 L1984.3 679.6 Q1986.7 675.7 1984.9 671.6 L1984.9 671.6 L1974.3 668.0 Q1972.3 662.7 1976.0 658.4 L1987.2 658.8 Q1990.4 655.6 1989.4 651.2 L1989.4 651.2 L1979.8 645.5 Q1978.9 639.9 1983.4 636.5 L1994.3 639.1 Q1998.0 636.6 1998.0 632.1 L1998.0 632.1 L1989.7 624.6 Q1990.0 618.9 1995.0 616.4 L2005.2 621.2 Q2009.4 619.5 2010.2 615.1 L2010.2 615.1 L2003.6 606.0 Q2005.0 600.6 2010.5 599.2 L2019.5 605.9 Q2023.9 605.0 2025.6 600.9 L2025.6 600.9 L2020.9 590.7 Q2023.4 585.6 2029.1 585.3 L2036.5 593.7 Q2041.0 593.8 2043.6 590.1 L2043.6 590.1 L2041.0 579.2 Q2044.5 574.7 2050.1 575.6 L2055.7 585.3 Q2060.1 586.2 2063.3 583.1 L2063.3 583.1 L2063.0 571.9 Q2067.3 568.2 2072.6 570.2 L2076.1 580.8 Q2080.3 582.7 2084.1 580.3 Z" fill="#e6c6b7" stroke="#ad6d59" stroke-width="3.9" stroke-linecap="round" stroke-linejoin="round"/>
<path d="M2211.2 571.2 L2214.1 570.3 L2214.4 561.1 Q2219.6 558.0 2225.2 560.1 L2227.1 569.2 Q2229.8 571.3 2233.1 570.2 L2233.1 570.2 L2237.6 562.0 Q2243.6 561.8 2247.6 566.2 L2245.0 575.2 Q2246.4 578.3 2249.9 578.8 L2249.9 578.8 L2257.7 573.7 Q2263.1 576.2 2264.6 582.0 L2258.1 588.7 Q2258.0 592.2 2260.8 594.2 L2260.8 594.2 L2270.0 593.4 Q2273.7 598.1 2272.3 603.9 L2263.5 606.9 Q2261.7 609.9 2263.3 613.0 L2263.3 613.0 L2271.9 616.5 Q2272.8 622.4 2268.9 626.9 L2259.7 625.4 Q2256.8 627.2 2256.7 630.7 L2256.7 630.7 L2262.7 637.8 Q2260.8 643.5 2255.3 645.7 L2247.8 640.1 Q2244.4 640.3 2242.7 643.4 L2242.7 643.4 L2244.7 652.5 Q2240.4 656.6 2234.5 656.0 L2230.5 647.6 Q2227.3 646.2 2224.4 648.1 L2224.4 648.1 L2221.9 657.1 Q2216.2 658.7 2211.2 655.4 L2211.6 646.1 Q2209.5 643.4 2206.0 643.8 L2206.0 643.8 L2199.6 650.5 Q2193.8 649.4 2191.0 644.1 L2195.6 636.0 Q2195.0 632.6 2191.7 631.4 L2191.7 631.4 L2182.9 634.4 Q2178.3 630.7 2178.2 624.7 L2186.1 619.7 Q2187.1 616.4 2184.8 613.8 L2184.8 613.8 L2175.6 612.4 Q2173.3 606.9 2176.0 601.6 L2185.3 600.8 Q2187.7 598.4 2186.9 595.0 L2186.9 595.0 L2179.4 589.5 Q2179.9 583.5 2184.8 580.1 L2193.3 583.7 Q2196.6 582.7 2197.5 579.3 L2197.5 579.3 L2193.4 571.0 Q2196.6 565.9 2202.5 565.1 L2208.4 572.3 Q2211.8 572.9 2214.1 570.3 Z" fill="#e6c6b7" stroke="#ad6d59" stroke-width="3.9" stroke-linecap="round" stroke-linejoin="round"/>
<circle cx="2224" cy="608.6" r="23" fill="none" stroke="#ad6d59" stroke-width="3.9"/>
<circle cx="2224" cy="608.6" r="14.5" fill="#f3f1ed" stroke="#ad6d59" stroke-width="3.9"/>
<path d="M2095.7 693.7 L2100.7 698.7 L2106.7 704.1 L2112.6 701.3 L2119.6 699.7 L2123.6 705.7 L2128 712.1 L2134 715.6 L2150.6 717.6 L2154 726 L2159.9 735.6 L2167.9 743.6 L2175.9 747.6 L2181.5 751.6 L2171.5 761.5 L2159.5 771.5 L2147.6 781.5 L2135.6 789.5 L2125.6 794.5 L2124 783.5 L2119.6 759.5 L2117.6 743.6 L2113.6 735.6 L2105.7 725.6 L2102.1 717.6 L2104.1 708.7 L2098.1 700.7 Z" fill="#f3f1ed" stroke="#ad6d59" stroke-width="0.1" stroke-linecap="round" stroke-linejoin="round"/>
<path d="M2080.1 580.5 L2084.1 580.3 L2086.0 569.2 Q2091.0 566.5 2095.8 569.5 L2097.1 580.6 Q2100.8 583.2 2105.0 581.7 L2105.0 581.7 L2109.1 571.2 Q2114.5 569.6 2118.6 573.4 L2117.6 584.6 Q2120.7 587.9 2125.2 587.2 L2125.2 587.2 L2131.3 577.8 Q2136.9 577.3 2140.2 581.9 L2137.0 592.7 Q2139.3 596.5 2143.8 596.7 L2143.8 596.7 L2151.7 588.8 Q2157.3 589.4 2159.6 594.6 L2154.3 604.5 Q2155.8 608.7 2160.2 609.8 L2160.2 609.8 L2169.5 603.6 Q2174.9 605.3 2176.0 610.9 L2168.9 619.5 Q2169.5 624.0 2173.6 625.9 L2173.6 625.9 L2184.0 621.7 Q2188.9 624.5 2188.9 630.1 L2180.1 637.1 Q2179.9 641.6 2183.4 644.4 L2183.4 644.4 L2194.5 642.4 Q2198.7 646.1 2197.6 651.6 L2187.6 656.7 Q2186.4 661.1 2189.4 664.5 L2189.4 664.5 L2200.6 664.7 Q2204.0 669.2 2201.8 674.4 L2191.0 677.4 Q2189.0 681.4 2191.2 685.3 L2191.2 685.3 L2202.1 687.8 Q2204.6 692.9 2201.4 697.5 L2190.2 698.3 Q2187.4 701.8 2188.7 706.1 L2188.7 706.1 L2199.0 710.8 Q2200.3 716.2 2196.2 720.1 L2185.1 718.6 Q2181.7 721.5 2182.2 726.0 L2182.2 726.0 L2191.2 732.6 Q2191.5 738.3 2186.7 741.2 L2176.1 737.5 Q2172.1 739.7 2171.7 744.2 L2171.7 744.2 L2179.3 752.5 Q2178.4 758.0 2173.1 760.0 L2163.5 754.2 Q2159.1 755.5 2157.8 759.8 L2157.8 759.8 L2163.5 769.5 Q2161.6 774.8 2156.0 775.6 L2147.7 768.0 Q2143.2 768.4 2141.1 772.4 L2141.1 772.4 L2144.7 783.0 Q2141.7 787.8 2136.1 787.5 L2129.5 778.4 Q2125.0 777.9 2122.1 781.3 L2122.1 781.3 L2123.6 792.4 Q2119.7 796.5 2114.2 795.1 L2109.6 784.9 Q2105.3 783.5 2101.8 786.2 L2101.8 786.2 L2100.9 797.4 Q2096.3 800.6 2091.2 798.1 L2088.8 787.2 Q2084.9 785.0 2080.8 787.0 L2080.8 787.0 L2077.8 797.8 Q2072.6 800.0 2068.1 796.5 L2067.9 785.3 Q2064.5 782.3 2060.2 783.5 L2060.2 783.5 L2055.0 793.4 Q2049.5 794.5 2045.8 790.3 L2047.9 779.2 Q2045.2 775.6 2040.7 775.9 L2040.7 775.9 L2033.6 784.6 Q2028.0 784.6 2025.2 779.7 L2029.5 769.3 Q2027.5 765.2 2023.1 764.5 L2023.1 764.5 L2014.4 771.7 Q2008.9 770.5 2007.2 765.1 L2013.4 755.8 Q2012.4 751.4 2008.1 749.9 L2008.1 749.9 L1998.2 755.1 Q1993.0 752.9 1992.4 747.2 L2000.4 739.4 Q2000.3 734.9 1996.4 732.5 L1996.4 732.5 L1985.7 735.6 Q1981.0 732.4 1981.6 726.8 L1991.0 720.7 Q1991.8 716.2 1988.5 713.1 L1988.5 713.1 L1977.3 714.0 Q1973.4 709.9 1975.1 704.5 L1985.6 700.5 Q1987.2 696.2 1984.6 692.5 L1984.6 692.5 L1973.4 691.2 Q1970.5 686.4 1973.2 681.4 L1984.3 679.6 Q1986.7 675.7 1984.9 671.6 L1984.9 671.6 L1974.3 668.0 Q1972.3 662.7 1976.0 658.4 L1987.2 658.8 Q1990.4 655.6 1989.4 651.2 L1989.4 651.2 L1979.8 645.5 Q1978.9 639.9 1983.4 636.5 L1994.3 639.1 Q1998.0 636.6 1998.0 632.1 L1998.0 632.1 L1989.7 624.6 Q1990.0 618.9 1995.0 616.4 L2005.2 621.2 Q2009.4 619.5 2010.2 615.1 L2010.2 615.1 L2003.6 606.0 Q2005.0 600.6 2010.5 599.2 L2019.5 605.9 Q2023.9 605.0 2025.6 600.9 L2025.6 600.9 L2020.9 590.7 Q2023.4 585.6 2029.1 585.3 L2036.5 593.7 Q2041.0 593.8 2043.6 590.1 L2043.6 590.1 L2041.0 579.2 Q2044.5 574.7 2050.1 575.6 L2055.7 585.3 Q2060.1 586.2 2063.3 583.1 L2063.3 583.1 L2063.0 571.9 Q2067.3 568.2 2072.6 570.2 L2076.1 580.8 Q2080.3 582.7 2084.1 580.3 Z" fill="none" stroke="#ad6d59" stroke-width="3.9" stroke-linejoin="round"/>
<circle cx="2087.7" cy="683.7" r="24.5" fill="#f3f1ed" stroke="none"/>
<path d="M2099.8 720.8 A39 39 0 1 1 2123.0 700.2" fill="none" stroke="#ad6d59" stroke-width="3.9" stroke-linecap="round" stroke-linejoin="round"/>
<path d="M2094.0 707.4 A24.5 24.5 0 1 1 2107.8 697.8" fill="none" stroke="#ad6d59" stroke-width="3.9" stroke-linecap="round" stroke-linejoin="round"/>
<path d="M2095.7 693.7 L2100.7 698.7 L2106.7 704.1 L2112.6 701.3 L2119.6 699.7 L2123.6 705.7 L2128 712.1 L2134 715.6 L2150.6 717.6 L2154 726 L2159.9 735.6 L2167.9 743.6 L2175.9 747.6" fill="none" stroke="#ad6d59" stroke-width="3.9" stroke-linecap="round" stroke-linejoin="round"/>
<path d="M2098.1 700.7 L2104.1 708.7 L2102.1 717.6 L2105.7 725.6 L2113.6 735.6 L2117.6 743.6 L2119.6 759.5 L2124 783.5 L2125.2 792.5" fill="none" stroke="#ad6d59" stroke-width="3.9" stroke-linecap="round" stroke-linejoin="round"/>
<path d="M2119.6 699.7 L2117.6 707.7 M2171.9 689.7 L2159.9 697.7 L2157.5 707.7 L2151.2 717.2" fill="none" stroke="#ad6d59" stroke-width="3.9" stroke-linecap="round" stroke-linejoin="round"/>
<path d="M2108.7 572.4 L2106.7 585.9 L2098.1 595.9 L2103.7 611.9 L2099.7 621.9 L2091.1 629.8 L2090.7 639.8 L2086.9 647.8 L2085.7 658.2 M2103.7 611.9 L2117.6 619.9 L2125.6 622.3 L2133.6 617.1 M2125.6 622.3 L2129.6 636.8 M2113.6 570.4 L2109.7 582.3" fill="none" stroke="#ad6d59" stroke-width="3.9" stroke-linecap="round" stroke-linejoin="round"/>
<path d="M2021.9 602.9 L2029.8 619.9 L2035.8 629.8 L2039.8 627.8 L2042.8 639.8 L2045.8 642.8" fill="none" stroke="#ad6d59" stroke-width="3.9" stroke-linecap="round" stroke-linejoin="round"/>
<path d="M2068.7 741.6 L2069.7 751.6 L2059.8 757.5 L2053.8 767.5 L2049.8 779.5 L2048.8 791.5" fill="none" stroke="#ad6d59" stroke-width="3.9" stroke-linecap="round" stroke-linejoin="round"/>
<path d="M2092.7 750.6 L2103.7 752.6 L2116 756.7" fill="none" stroke="#ad6d59" stroke-width="3.9" stroke-linecap="round" stroke-linejoin="round"/>
<path d="M2406.9 544.1 C2372.5 547.7 2341.2 550.8 2317.8 550.3 C2294.4 549.7 2278.8 545.3 2263.1 536.7 C2252.2 530.5 2244.4 523.4 2231.9 520.6 C2200.6 518 2138.1 518 2091.2 521.1 C2060 523.4 2036.6 527.3 2013.1 535.9" fill="none" stroke="#ad6d59" stroke-width="3.9" stroke-linecap="round" stroke-linejoin="round"/>
<path d="M2013.1 535.9 C1985.6 546.9 1962.2 565.6 1938.8 590.6 C1915.3 615.6 1891.9 648.4 1873.1 679.7 C1860.6 701.6 1849.7 726.6 1843.4 743.8 C1839.5 756.2 1838.8 768.8 1838.8 787.0" fill="none" stroke="#ad6d59" stroke-width="3.9" stroke-linecap="round" stroke-linejoin="round"/>
<path d="M2231.9 531.2 L2169.4 531.2 C2167.8 531.2 2167.8 533.6 2167.8 537.5 C2167.8 546.9 2160 555 2149.8 555 C2139.7 555 2132.7 546.9 2132.2 537.5 C2132.2 532.8 2132.2 530 2130.3 529.7 C2106.9 529.7 2075.6 531.2 2052.2 535.2 C2028.8 539.8 2013.1 545.3 2000.6 551.6" fill="none" stroke="#ad6d59" stroke-width="3.9" stroke-linecap="round" stroke-linejoin="round"/>
<path d="M2000.5 551.6 C1977.8 565.6 1957.5 587.5 1937.2 620.3 C1945 625 1948.9 634.4 1946.6 643.8 C1943.4 654.7 1934.1 660.9 1923.1 659.4 C1918.4 658.6 1914.5 656.2 1911.4 652.3 C1891.9 679.7 1876.2 703.1 1865.3 726.6 C1855.9 745.3 1851.2 762.5 1850 775 L1849.7 787.8" fill="none" stroke="#ad6d59" stroke-width="3.9" stroke-linecap="round" stroke-linejoin="round"/>
<path d="M2231.9 520.6 L2231.9 551.9" fill="none" stroke="#ad6d59" stroke-width="3.9" stroke-linecap="round" stroke-linejoin="round"/>
<circle cx="1928.6" cy="641.4" r="8.6" fill="none" stroke="#ad6d59" stroke-width="3.9"/>
<circle cx="2149.8" cy="538.3" r="8.6" fill="none" stroke="#ad6d59" stroke-width="3.9"/>
<circle cx="2209.2" cy="766.7" r="8.6" fill="none" stroke="#ad6d59" stroke-width="3.9"/>
<circle cx="2313.4" cy="637.5" r="11" fill="none" stroke="#ad6d59" stroke-width="3.9"/>
<path d="M2295.2 651.2 C2287.3 640.6 2288.9 626.6 2299.1 619.5 C2308.4 613.3 2320.9 614.1 2328.8 621.9 C2336.6 630.5 2335.8 643.8 2328.8 653.9" fill="none" stroke="#ad6d59" stroke-width="3.9" stroke-linecap="round" stroke-linejoin="round"/>
<path d="M2406.9 600 L2294.4 600 C2286.6 600 2283.4 593.8 2280.3 584.4 C2275.6 570.3 2263.1 556.2 2244.4 553.1 C2239.7 552.3 2235 552.3 2231.9 552.3 L2189.7 552.8 L2189.7 567.5 L2147.5 567.5 C2138.1 567.5 2130.3 562.5 2119.4 558.6 C2106.9 554.7 2091.2 553.1 2079.4 554.7" fill="none" stroke="#ad6d59" stroke-width="3.9" stroke-linecap="round" stroke-linejoin="round"/>
<path d="M2079.4 554.7 C2063.8 556.2 2048.1 560.9 2032.5 567.5 C2013.8 576.6 2001.2 587.5 1992.8 596.9 C1977.8 614.1 1965.3 640.6 1959.8 668.8 C1958.3 679.7 1958.3 690.6 1958.8 701.1" fill="none" stroke="#ad6d59" stroke-width="3.9" stroke-linecap="round" stroke-linejoin="round"/>
<path d="M1958.8 680 L1958.8 701.1 L1905.2 701.1 C1902 701.1 1901.2 702.7 1901.2 705.8 L1901.2 772.5" fill="none" stroke="#ad6d59" stroke-width="3.9" stroke-linecap="round" stroke-linejoin="round"/>
<path d="M1915.3 772.5 L1915.3 719.8 C1915.3 718.3 1916.9 717.5 1920 717.5 C1929.4 716.2 1940.3 716.2 1949.7 717.5 C1953.6 717.8 1954.4 718.8 1954.4 720.6 L1954.4 772.5" fill="none" stroke="#ad6d59" stroke-width="3.9" stroke-linecap="round" stroke-linejoin="round"/>
<path d="M1886.4 782.3 L1886.4 773 L1993.4 773.3 C2001.2 775.3 2005.9 783.1 2013.8 789.4 C2026.2 800.3 2045 809.7 2071.6 812 C2095 813.6 2110.6 812 2127.2 810.0" fill="none" stroke="#ad6d59" stroke-width="3.9" stroke-linecap="round" stroke-linejoin="round"/>
<path d="M1976.2 773.3 L1976.2 782.3" fill="none" stroke="#ad6d59" stroke-width="3.9" stroke-linecap="round" stroke-linejoin="round"/>
<path d="M1864.5 782.3 L1987.5 782.3 L1987.5 809.7 L1864.5 809.7 Z" fill="none" stroke="#ad6d59" stroke-width="3.9" stroke-linecap="round" stroke-linejoin="round"/>
<path d="M1913.8 809.7 L1913.8 851.9 M1935.6 809.7 L1935.6 845.6 L1954.4 845.6 M1954.4 809.7 L1954.4 858.1" fill="none" stroke="#ad6d59" stroke-width="3.9" stroke-linecap="round" stroke-linejoin="round"/>
<path d="M1954.4 815.2 L2102.8 815.2 L2102.8 842.5 L1954.4 842.5" fill="none" stroke="#ad6d59" stroke-width="3.9" stroke-linecap="round" stroke-linejoin="round"/>
<path d="M1957.5 848 L2111.6 848 M1915.3 858.1 L1895 858.1 C1893.4 855.8 1891.9 854.2 1888.8 853.8 C1876.2 851.9 1865.3 850.3 1859.1 847.2 C1852.8 843.3 1850.5 837.8 1849.7 832.3 M1954.4 858.1 L2125.6 858.1" fill="none" stroke="#ad6d59" stroke-width="3.9" stroke-linecap="round" stroke-linejoin="round"/>
<path d="M1915.3 851.9 L1923.1 853.1 C1923.9 856.6 1923.9 859.7 1925.5 862.8 C1927 865.6 1929.4 866.2 1932.5 866.2 L1941.9 866.2 C1945 865.9 1946.6 864.4 1946.9 862 L1947.3 853.4 L1954.4 851.9" fill="none" stroke="#ad6d59" stroke-width="3.9" stroke-linecap="round" stroke-linejoin="round"/>
<path d="M1739.5 787 L1829.4 787 C1841.9 787.5 1852.8 790.2 1863.8 795.6 M1739.5 811.2 C1759.1 811.2 1779.4 810.5 1795 806.6 C1810.6 802.7 1826.2 799.5 1845 799.1 L1863.8 799.5 M1739.5 826.9 C1766.9 827.2 1790.3 826.9 1807.5 823.8 C1829.4 819.8 1852.8 815.9 1876.2 815.2 L1913 815.2 M1739.5 837.8 C1766.9 838.1 1795 837.8 1813.8 833.9 C1832.5 830 1852.8 827.7 1876.2 826.9 L1913 826.9" fill="none" stroke="#ad6d59" stroke-width="3.9" stroke-linecap="round" stroke-linejoin="round"/>
<path d="M2249.1 659.7 L2249.1 687.8 L2216.2 687.8 L2216.2 748.8 C2210 748.8 2203.8 751.1 2199.1 755.8 C2192.8 762 2192.8 772.2 2198.3 778.4 C2202.2 782.3 2208.4 783.9 2216.2 783.4 C2220.9 786.2 2221.7 792.5 2220.2 799.5 C2217.8 808.1 2210 817.5 2200.6 826.1 C2192.8 833.1 2185 839.4 2180.3 844.1 L2163.9 845.6 L2162.3 856.9 L2180.3 856.9 C2185 855.8 2189.7 851.9 2195.9 845.6 C2206.9 834.7 2219.4 820.6 2226.4 808.1 C2231.9 797.2 2232.7 786.2 2231.1 773.8 C2229.5 761.2 2226.4 747.2 2225.6 734.7 C2224.8 725.3 2224.8 719.1 2226.4 715.2 C2231.9 708.1 2244.4 703.4 2260 699.5 C2278.8 695.6 2302.2 695.6 2322.5 700.3 C2333.4 703.1 2341.2 707.3 2346.2 711.2" fill="none" stroke="#ad6d59" stroke-width="3.9" stroke-linecap="round" stroke-linejoin="round"/>
<path d="M2227.2 735.5 C2239.7 728.4 2260 725.3 2278.8 726.9 C2294.4 728.4 2310 734.7 2322.5 741.7 C2328.8 744.8 2333.4 744.1 2335.8 740.2 C2339.7 731.6 2342.8 720.6 2346.2 711.2 C2350.6 701.9 2356.9 692.5 2366.2 686.2 C2378.8 681.6 2392.8 682.3 2406.9 681.6" fill="none" stroke="#ad6d59" stroke-width="3.9" stroke-linecap="round" stroke-linejoin="round"/>
<path d="M2406.9 628.4 C2388.1 630.5 2375.6 637.5 2367.8 650 C2361.6 660.9 2359.2 673.4 2358.8 684.4 C2358.4 689.1 2358.1 693 2356.9 696.1" fill="none" stroke="#ad6d59" stroke-width="3.9" stroke-linecap="round" stroke-linejoin="round"/>
<path d="M2127.2 810 L2127.2 825.3 L2111.6 826.6 L2111.6 856.9 M2125.6 856.9 L2125.6 850.3 C2130.3 848 2135 848 2138.1 846.4 C2136.6 840.9 2138.1 835.5 2141.2 834.7 C2145.2 834.7 2145.9 840.9 2144.4 845.6 C2150.6 848 2156.9 849.5 2162.3 851.1" fill="none" stroke="#ad6d59" stroke-width="3.9" stroke-linecap="round" stroke-linejoin="round"/>
<path d="M2167.8 787.8 L2192.8 809.7 L2171.2 822.5 L2156.9 808.4 Z" fill="#e6c6b7" stroke="#ad6d59" stroke-width="4" stroke-linecap="round" stroke-linejoin="round"/>
<path d="M2245.9 820.6 L2260.8 809.7 L2285 806.6 L2279.5 834.7 L2269.4 831.9 L2259.2 842.8 L2255.3 830.3 Z" fill="#e6c6b7" stroke="#ad6d59" stroke-width="4" stroke-linecap="round" stroke-linejoin="round"/>
<path d="M2051.1 897.3 L2072.2 885.6 L2078.4 893.4 L2086.2 891.9 L2092.5 900.5 L2070.6 923.1 Z" fill="#e6c6b7" stroke="#ad6d59" stroke-width="4" stroke-linecap="round" stroke-linejoin="round"/>
<path d="M2148 880.2 L2158.9 899.7 L2137.8 907.5 Z" fill="#e6c6b7" stroke="#ad6d59" stroke-width="4" stroke-linecap="round" stroke-linejoin="round"/>
<path d="M2214.4 859.1 L2228.4 866.9 L2211.2 890.3 L2193.3 878.6 Z" fill="#e6c6b7" stroke="#ad6d59" stroke-width="4" stroke-linecap="round" stroke-linejoin="round"/>
<path d="M2264.4 877 L2285.5 890.3 L2265.9 894.2 Z" fill="#e6c6b7" stroke="#ad6d59" stroke-width="4" stroke-linecap="round" stroke-linejoin="round"/>
<path d="M2206.6 929.4 L2221.4 937.2 L2203.4 952.8 Z" fill="#e6c6b7" stroke="#ad6d59" stroke-width="4" stroke-linecap="round" stroke-linejoin="round"/>
</g>
</svg>
<header>
<h1 class="t"><span id="g1">「高枝」</span><span id="g2">「<i id="gi">18V</i>互換<b>」</b></span><span id="g3">「格安品」</span><span id="gd">—</span><span id="g4">購入前の注意点</span></h1>
</header>
<main>
<section>
<h2 class="t" id="hd1">高枝作業</h2>
<p class="b" id="b1">脚立いらずで安全。<br>庭全体のメンテナンスに。</p>
</section>
<section>
<h2 class="t" id="hd2">18V互換バッテリー</h2>
<p class="b" id="b2">注意<i id="c1">:</i> バッテリーが重く、<br>体感重量が増加。軽さ<br>重視なら<i id="n1">10.8V</i>が<i id="dc">◎</i>。</p>
</section>
<section>
<h2 class="t" id="hd3">格安品</h2>
<p class="b" id="b3">故障リスクを理解して、<br>「安物買いの銭失い」にな<br>る可能性性も。</p>
</section>
</main>
</body>
</html>
